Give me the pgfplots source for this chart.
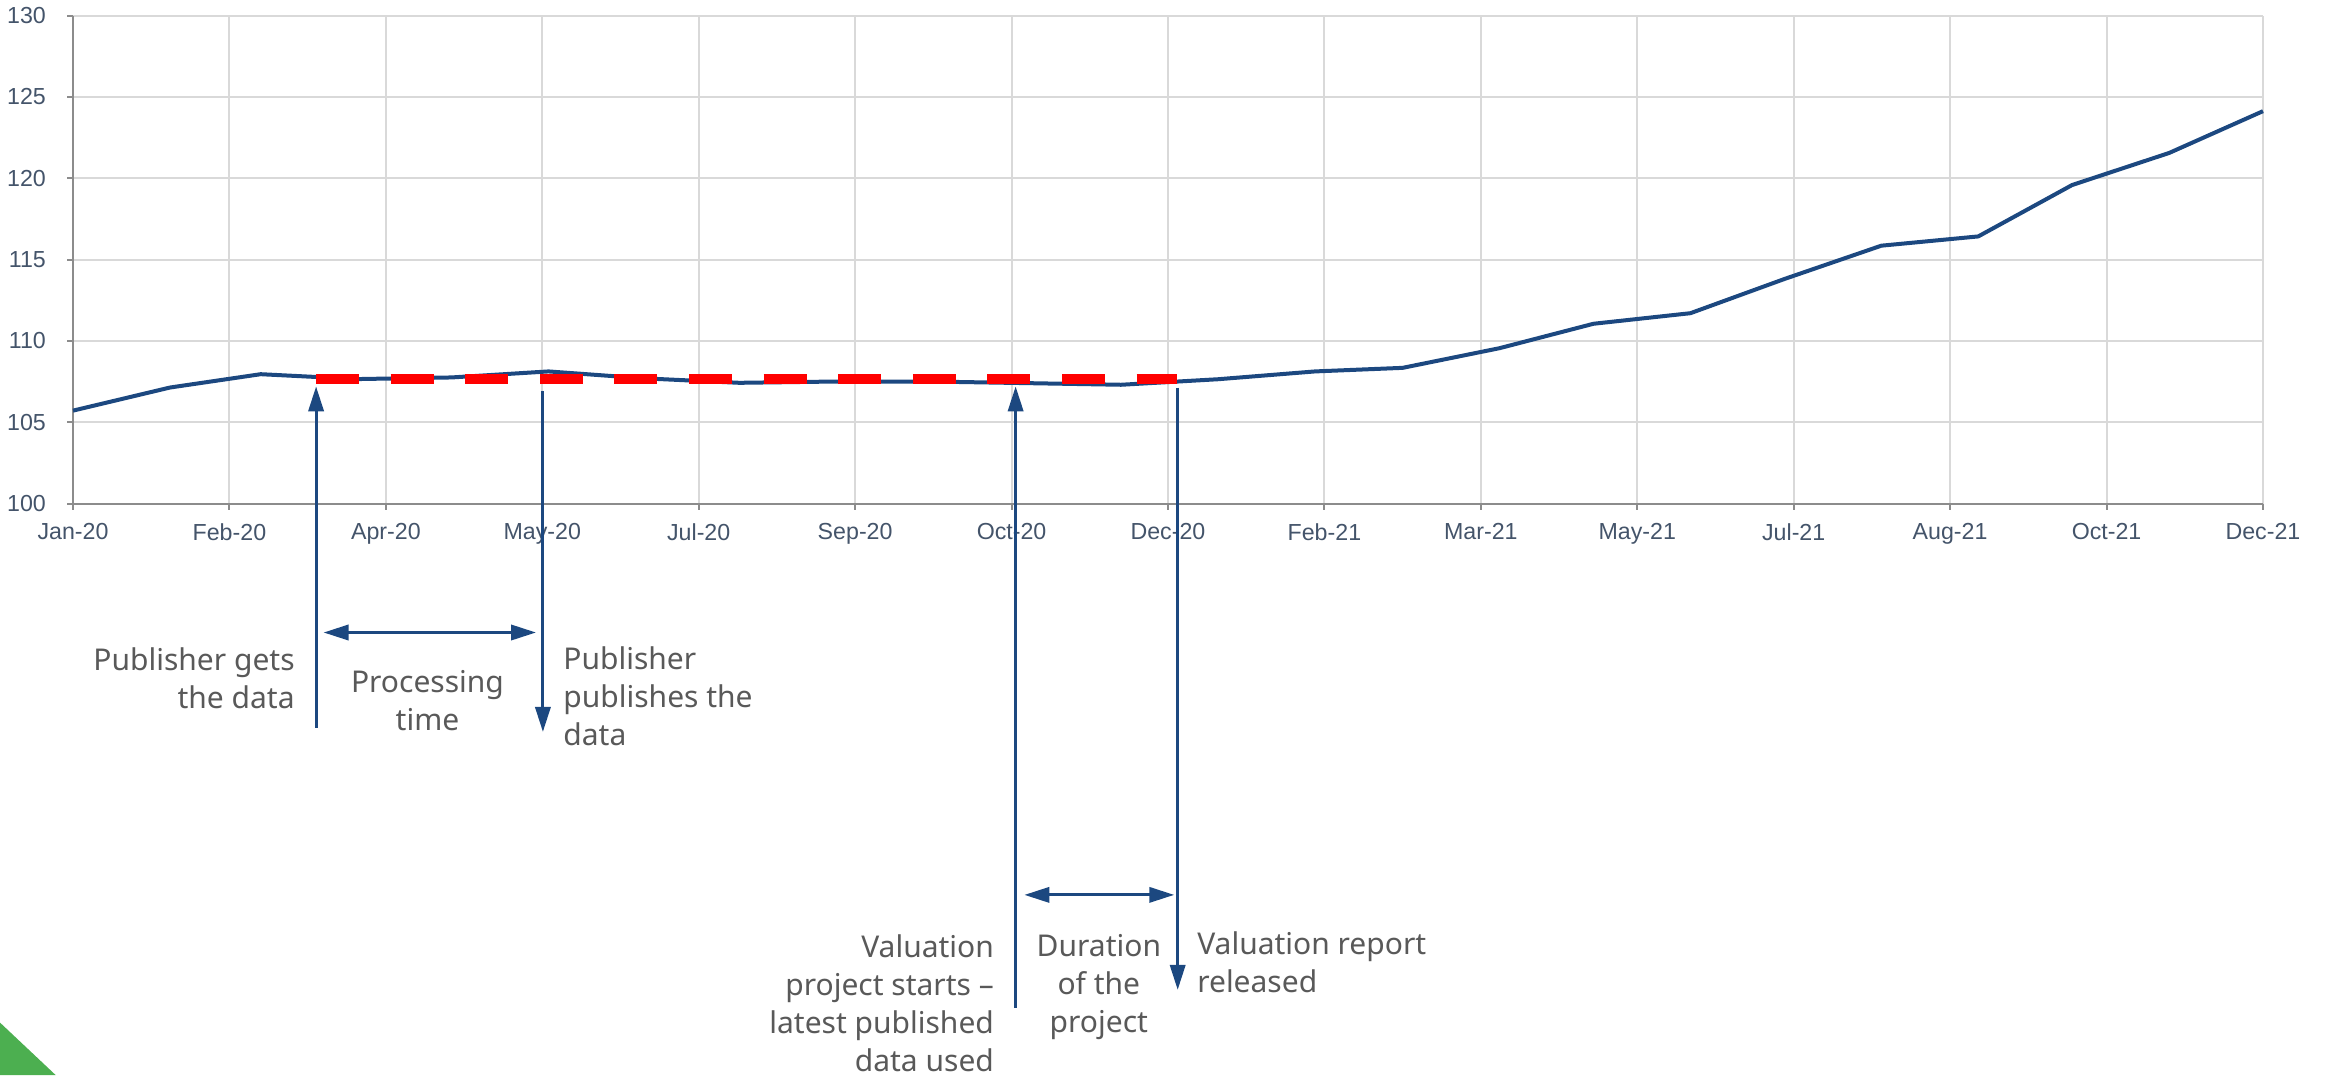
\documentclass[border=0pt]{standalone}
\usepackage{fontspec}
\setmainfont{Liberation Sans}
\newfontfamily\notefont{Noto Sans}
\usepackage{pgfplots}
\usepackage{pgfplotstable}
\pgfplotsset{compat=1.18}
\usetikzlibrary{arrows.meta}

\definecolor{seriesblue}{RGB}{28,72,128}
\definecolor{ticktext}{HTML}{44546A}
\definecolor{notetext}{HTML}{595959}
\definecolor{gridgray}{HTML}{D9D9D9}
\definecolor{axisgray}{HTML}{8C8C8C}
\definecolor{cornergreen}{RGB}{76,175,80}

% Monthly index, x = days since 1 Jan 2020
\pgfplotstableread{
day value
0   105.71
31  107.13
60  107.95
91  107.65
121 107.75
152 108.12
182 107.70
213 107.42
244 107.50
274 107.50
305 107.40
335 107.30
366 107.64
397 108.12
425 108.34
456 109.55
486 111.05
517 111.70
547 113.80
578 115.85
609 116.42
639 119.58
670 121.55
700 124.12
}\indexdata

% Last published value held flat until the report is released
\pgfplotstableread{
day value
77.7  107.68
353.0 107.68
}\publisheddata

\begin{document}
\begin{tikzpicture}
\path[use as bounding box] (0,0) rectangle (582pt,268.75pt);
\fill[cornergreen] (0,0) -- (0,13.1pt) -- (13.9pt,0) -- cycle;
\begin{axis}[
  at={(18.25pt,142.875pt)}, anchor=south west,
  scale only axis, width=547.5pt, height=122pt,
  xmin=0, xmax=700, ymin=100, ymax=130,
  axis x line*=bottom, axis y line*=left,
  axis line style={axisgray, line width=0.5pt, -},
  xtick={0,50,...,700},
  xticklabels={Jan-20,Feb-20,Apr-20,May-20,Jul-20,Sep-20,Oct-20,Dec-20,Feb-21,Mar-21,May-21,Jul-21,Aug-21,Oct-21,Dec-21},
  ytick={100,105,...,130},
  grid=major,
  major grid style={gridgray, line width=0.5pt},
  tick align=outside, major tick length=1.5pt,
  tick style={axisgray, line width=0.5pt},
  ticklabel style={font=\fontsize{5.8}{7}\selectfont, text=ticktext},
  /pgf/number format/assume math mode=true,
  yticklabel style={xshift=-1.75pt},
  clip=false,
]
\addplot[seriesblue, line width=1pt, line join=round] table[x=day, y=value] {\indexdata};
\addplot[red, line width=2.5pt, dash pattern=on 10.75pt off 7.9pt] table[x=day, y=value] {\publisheddata};

% annotation arrows
\begin{scope}[seriesblue, line width=0.75pt, >={Triangle[length=6.25pt,width=3.8pt]}]
\draw[->] (axis cs:77.7,86.23) -- (axis cs:77.7,107.2);
\draw[->] (axis cs:150.2,106.92) -- (axis cs:150.2,85.96);
\draw[<->] (axis cs:80.1,92.07) -- (axis cs:148.0,92.07);
\draw[->] (axis cs:301.3,68.99) -- (axis cs:301.3,107.2);
\draw[->] (axis cs:353.1,107.13) -- (axis cs:353.1,70.1);
\draw[<->] (axis cs:304.1,75.94) -- (axis cs:352.0,75.94);
\end{scope}

% annotation texts
\begin{scope}[every node/.style={inner sep=0pt, text=notetext, font=\notefont\fontsize{7.5}{9.5}\selectfont}]
\node[anchor=east, align=right] at (axis cs:71.1,89.24) {Publisher gets\\the data};
\node[align=center] at (axis cs:113.3,87.88) {Processing\\time};
\node[anchor=west, align=left] at (axis cs:156.5,88.17) {Publisher\\publishes the\\data};
\node[anchor=east, align=right] at (axis cs:294.6,69.27) {Valuation\\project starts –\\latest published\\data used};
\node[align=center] at (axis cs:327.9,70.28) {Duration\\of the\\project};
\node[anchor=west, align=left] at (axis cs:359.1,71.79) {Valuation report\\released};
\end{scope}
\end{axis}
\end{tikzpicture}
\end{document}
